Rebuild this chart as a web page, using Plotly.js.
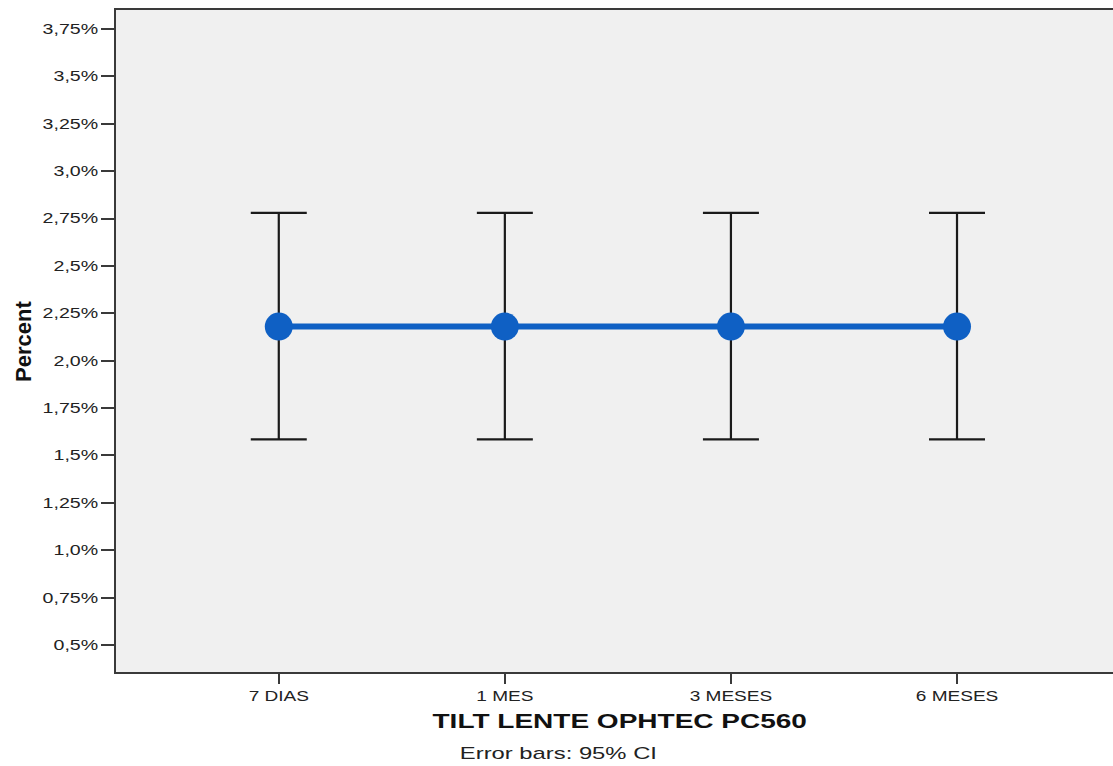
<!DOCTYPE html>
<html>
<head>
<meta charset="utf-8">
<script src="https://cdn.plot.ly/plotly-3.0.1.min.js"></script>
<style>html,body{margin:0;padding:0;background:#fff;overflow:hidden}#chart{width:1113px;height:766px}</style>
</head>
<body>
<div id="chart"></div>
<script>
const categories = ["7 DIAS", "1 MES", "3 MESES", "6 MESES"];
const meanPercent = [2.18, 2.18, 2.18, 2.18];
const ciUpper = [2.78, 2.78, 2.78, 2.78];
const ciLower = [1.585, 1.585, 1.585, 1.585];
const yTickVals = [0.5, 0.75, 1.0, 1.25, 1.5, 1.75, 2.0, 2.25, 2.5, 2.75, 3.0, 3.25, 3.5, 3.75];
const yTickText = ["0,5%", "0,75%", "1,0%", "1,25%", "1,5%", "1,75%", "2,0%", "2,25%", "2,5%", "2,75%", "3,0%", "3,25%", "3,5%", "3,75%"];
const xTitle = "TILT LENTE OPHTEC PC560";
const yTitle = "Percent";
const noteText = "Error bars: 95% CI";

const errPlus = ciUpper.map((u, i) => u - meanPercent[i]);
const errMinus = ciLower.map((l, i) => meanPercent[i] - l);

const trace = {
  x: categories,
  y: meanPercent,
  type: "scatter",
  mode: "lines+markers",
  line: {color: "#0f60c4", width: 6},
  marker: {color: "#0f60c4", size: 28},
  error_y: {
    type: "data", symmetric: false,
    array: errPlus, arrayminus: errMinus,
    color: "#1a1a1a", thickness: 2.2, width: 28
  },
  hoverinfo: "none"
};

const FONT = "Liberation Sans, Arial, sans-serif";

const layout = {
  width: 1113, height: 766,
  margin: {l: 116, r: 0, t: 10, b: 94},
  paper_bgcolor: "#ffffff",
  plot_bgcolor: "#f0f0f0",
  showlegend: false,
  font: {family: FONT, color: "#222", size: 14},
  xaxis: {
    type: "category",
    range: [-0.72, 3.69],
    showgrid: false, zeroline: false,
    showline: true, linecolor: "#3a3a3a", linewidth: 2, mirror: true,
    ticks: "outside", ticklen: 10, tickwidth: 2, tickcolor: "#3a3a3a",
    tickfont: {size: 14, color: "#222"}
  },
  yaxis: {
    range: [0.3575, 3.85],
    showgrid: false, zeroline: false,
    showline: true, linecolor: "#3a3a3a", linewidth: 2,
    ticks: "outside", ticklen: 13, tickwidth: 2, tickcolor: "#3a3a3a",
    tickvals: yTickVals, ticktext: yTickText,
    tickfont: {size: 14, color: "#222"}
  },
  annotations: [
    {
      text: "<b>" + xTitle + "</b>",
      xref: "paper", yref: "paper",
      x: 0.5055, y: -0.0745, xanchor: "center", yanchor: "middle",
      showarrow: false,
      font: {size: 20, color: "#111", family: FONT}
    },
    {
      text: noteText,
      xref: "paper", yref: "paper",
      x: 0.4443, y: -0.1225, xanchor: "center", yanchor: "middle",
      showarrow: false,
      font: {size: 17, color: "#222", family: FONT}
    },
    {
      text: "<b>" + yTitle + "</b>",
      xref: "paper", yref: "paper",
      x: -0.0933, y: 0.5, xanchor: "center", yanchor: "middle",
      textangle: -90,
      showarrow: false,
      font: {size: 22, color: "#111", family: FONT}
    }
  ]
};

function stretch(sel, factor) {
  document.querySelectorAll(sel).forEach(function (t) {
    const len = t.getComputedTextLength();
    if (len > 0) {
      t.setAttribute("textLength", (len * factor).toFixed(2));
      t.setAttribute("lengthAdjust", "spacingAndGlyphs");
    }
  });
}

Plotly.newPlot("chart", [trace], layout, {displayModeBar: false, staticPlot: true}).then(function () {
  stretch(".xtick text", 1.36);
  stretch(".ytick text", 1.4);
  document.querySelectorAll(".annotation-text").forEach(function (t) {
    const s = t.textContent;
    if (s === xTitle || s === noteText) {
      t.setAttribute("textLength", (t.getComputedTextLength() * 1.4).toFixed(2));
      t.setAttribute("lengthAdjust", "spacingAndGlyphs");
    }
  });
});
</script>
</body>
</html>
